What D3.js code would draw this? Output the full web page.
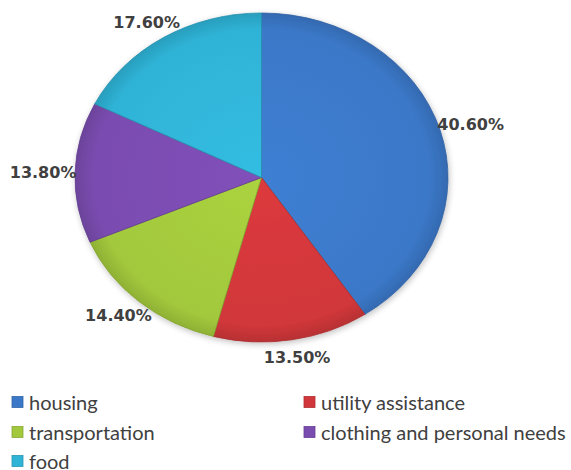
<!DOCTYPE html>
<html>
<head>
<meta charset="utf-8">
<script src="https://cdn.jsdelivr.net/npm/d3@7"></script>
<style>
  html, body { margin: 0; padding: 0; background: #ffffff; }
  svg { display: block; }
</style>
</head>
<body>
<svg id="chart" width="571" height="470"></svg>
<script>
const categories = ["housing", "utility assistance", "transportation", "clothing and personal needs", "food"];
const values = [40.6, 13.5, 14.4, 13.8, 17.6];
const valueLabels = ["40.60%", "13.50%", "14.40%", "13.80%", "17.60%"];
const colors = ["#3b78c8", "#d1373a", "#a2c83c", "#7a4cb0", "#2fb3d6"];

const svg = d3.select("#chart");
const cx = 261.5, cy = 177.5, rx = 186.5, ry = 164.5;

const defs = svg.append("defs");
const f = defs.append("filter").attr("id", "shadow").attr("x", "-10%").attr("y", "-10%").attr("width", "120%").attr("height", "120%");
f.append("feGaussianBlur").attr("in", "SourceAlpha").attr("stdDeviation", 3);
f.append("feOffset").attr("dx", 1).attr("dy", 2).attr("result", "b");
f.append("feComponentTransfer").append("feFuncA").attr("type", "linear").attr("slope", 0.25);
const m = f.append("feMerge");
m.append("feMergeNode");
m.append("feMergeNode").attr("in", "SourceGraphic");

colors.forEach((c, i) => {
  const g = defs.append("radialGradient").attr("id", "g" + i)
    .attr("gradientUnits", "userSpaceOnUse").attr("cx", 0).attr("cy", 0).attr("r", ry);
  g.append("stop").attr("offset", "0%").attr("stop-color", d3.color(c).brighter(0.15));
  g.append("stop").attr("offset", "90%").attr("stop-color", c);
  g.append("stop").attr("offset", "100%").attr("stop-color", d3.color(c).darker(0.35));
});

const pie = d3.pie().sort(null).value(d => d)(values);
const arc = d3.arc().innerRadius(0).outerRadius(ry);

const gPie = svg.append("g")
  .attr("transform", `translate(${cx},${cy}) scale(${rx / ry},1)`)
  .attr("filter", "url(#shadow)");

gPie.selectAll("path").data(pie).join("path")
  .attr("d", arc)
  .attr("fill", (d, i) => `url(#g${i})`)
  .attr("stroke", (d, i) => d3.color(colors[i]).darker(0.6))
  .attr("stroke-width", 0.8)
  .attr("vector-effect", "non-scaling-stroke");

const lrx = rx + 32, lry = ry + 18;
svg.append("g").selectAll("text").data(pie).join("text")
  .attr("x", d => cx + lrx * Math.sin((d.startAngle + d.endAngle) / 2))
  .attr("y", d => cy - lry * Math.cos((d.startAngle + d.endAngle) / 2))
  .attr("text-anchor", "middle")
  .attr("dominant-baseline", "central")
  .attr("font-family", "'DejaVu Sans', Verdana, sans-serif")
  .attr("font-weight", "bold")
  .attr("font-size", 16)
  .attr("fill", "#404040")
  .text((d, i) => valueLabels[i]);

const colX = [12, 304];
const rowY = [402, 432, 461];
const leg = svg.append("g").selectAll("g").data(categories).join("g")
  .attr("transform", (d, i) => `translate(${colX[i % 2]},${rowY[Math.floor(i / 2)]})`);
leg.append("rect")
  .attr("x", 0).attr("y", -5.5).attr("width", 11).attr("height", 11)
  .attr("fill", (d, i) => colors[i])
  .attr("stroke", (d, i) => d3.color(colors[i]).darker(0.5))
  .attr("stroke-width", 0.8);
leg.append("text")
  .attr("x", 17).attr("y", 0)
  .attr("dominant-baseline", "central")
  .attr("font-family", "Lato, 'Open Sans', sans-serif")
  .attr("font-size", 20)
  .attr("fill", "#404040")
  .text(d => d);
</script>
</body>
</html>
